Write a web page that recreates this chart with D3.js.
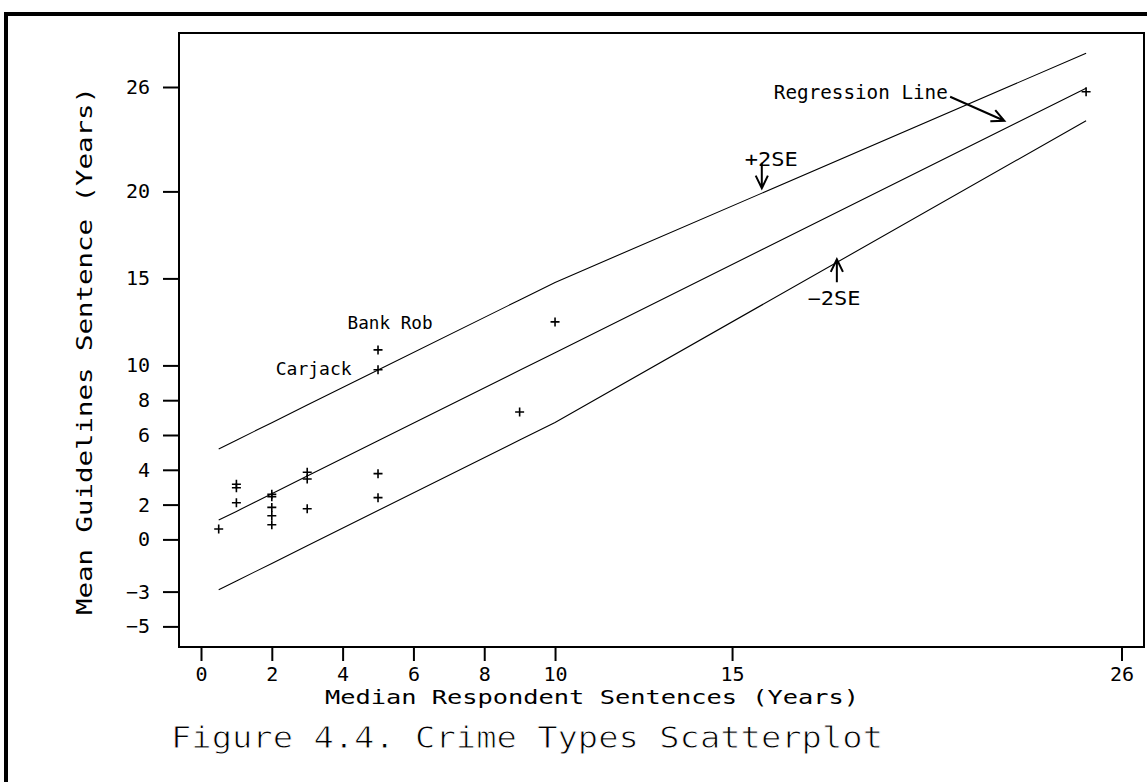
<!DOCTYPE html>
<html>
<head>
<meta charset="utf-8">
<script src="https://cdn.jsdelivr.net/npm/d3@7"></script>
<style>
  body { margin: 0; background: #fff; }
  svg { display: block; }
  text { font-family: "DejaVu Sans Mono", monospace; fill: #000; }
</style>
</head>
<body>
<svg id="chart" width="1147" height="782"></svg>
<script>
// Median respondent sentence vs mean guidelines sentence, one point per crime type (years)
const medianSentence = [0.5, 1, 1, 1, 2, 2, 2, 2, 2, 3, 3, 3, 5, 5, 5, 5, 9, 10, 25];
const guidelineSentence = [0.60, 3.17, 2.97, 2.11, 2.59, 2.45, 1.84, 1.36, 0.84,
                           3.86, 3.47, 1.76, 10.89, 9.75, 3.78, 2.40, 7.32, 12.50, 25.73];

// Fitted line and +/- 2 SE bands, evaluated at the observed x values
const fitX        = [0.5, 1, 2, 3, 5, 9, 10, 25];
const regressionY = [1.11, 1.61, 2.63, 3.64, 5.67, 9.72, 10.73, 25.93];
const upperY      = [5.20, 5.70, 6.71, 7.72, 9.73, 13.76, 14.77, 27.94];
const lowerY      = [-2.90, -2.39, -1.38, -0.37, 1.66, 5.71, 6.72, 24.06];

const xTicks = [0, 2, 4, 6, 8, 10, 15, 26];
const yTicks = [26, 20, 15, 10, 8, 6, 4, 2, 0, -3, -5];

const svg = d3.select("#chart");
const W = 1147, H = 782;
svg.append("rect").attr("width", W).attr("height", H).attr("fill", "#fff");

// page border (top and left rules)
svg.append("path")
  .attr("d", `M6,${H} L6,14 L${W},14`)
  .attr("fill", "none").attr("stroke", "#000").attr("stroke-width", 4);

const frame = { left: 179, right: 1144, top: 33, bottom: 647 };
const x = d3.scaleLinear().domain([0, 26]).range([201, 1121.5]);
const y = d3.scaleLinear().domain([-5, 26]).range([626.4, 87]);

// plot frame
svg.append("rect")
  .attr("x", frame.left).attr("y", frame.top)
  .attr("width", frame.right - frame.left).attr("height", frame.bottom - frame.top)
  .attr("fill", "none").attr("stroke", "#000").attr("stroke-width", 2);

// axes
const xAxis = svg.append("g")
  .attr("transform", `translate(0,${frame.bottom})`)
  .call(d3.axisBottom(x).tickValues(xTicks).tickSize(14).tickPadding(6).tickFormat(d3.format("d")));
const yAxis = svg.append("g")
  .attr("transform", `translate(${frame.left},0)`)
  .call(d3.axisLeft(y).tickValues(yTicks).tickSize(16).tickPadding(13).tickFormat(d => d < 0 ? "\u2212" + Math.abs(d) : d));
[xAxis, yAxis].forEach(g => {
  g.select(".domain").remove();
  g.attr("font-family", null).attr("font-size", null);
  g.selectAll(".tick line").attr("stroke", "#000").attr("stroke-width", 2);
  g.selectAll(".tick text").style("font-size", "20px").attr("fill", "#000");
});

// fitted line and bands
const line = d3.line().x(d => x(d[0])).y(d => y(d[1]));
[regressionY, upperY, lowerY].forEach(ys => {
  svg.append("path")
    .datum(fitX.map((v, i) => [v, ys[i]]))
    .attr("d", line)
    .attr("fill", "none").attr("stroke", "#000").attr("stroke-width", 1.1);
});

// points as plus markers
const s = 4.5;
svg.append("g").selectAll("path")
  .data(medianSentence.map((v, i) => [v, guidelineSentence[i]]))
  .join("path")
  .attr("d", d => `M${x(d[0]) - s},${y(d[1])}h${2 * s}M${x(d[0])},${y(d[1]) - s}v${2 * s}`)
  .attr("stroke", "#000").attr("stroke-width", 1.6).attr("fill", "none");

// annotations (data units)
function label(txt, vx, vy, size, len) {
  const t = svg.append("text")
    .attr("x", x(vx)).attr("y", y(vy))
    .style("font-size", size + "px")
    .text(txt);
  if (len) t.attr("textLength", len).attr("lengthAdjust", "spacingAndGlyphs");
  return t;
}
function arrow(x0, y0, x1, y1) {
  const ax = x(x0), ay = y(y0), bx = x(x1), by = y(y1);
  const ang = Math.atan2(by - ay, bx - ax), L = 14, spread = 0.45;
  const p1 = [bx - L * Math.cos(ang - spread), by - L * Math.sin(ang - spread)];
  const p2 = [bx - L * Math.cos(ang + spread), by - L * Math.sin(ang + spread)];
  svg.append("path")
    .attr("d", `M${ax},${ay}L${bx},${by}M${p1[0]},${p1[1]}L${bx},${by}L${p2[0]},${p2[1]}`)
    .attr("fill", "none").attr("stroke", "#000").attr("stroke-width", 2);
}

label("Regression Line", 16.18, 25.31, 19, 174);
arrow(21.16, 25.44, 22.69, 24.06);
label("+2SE", 15.36, 21.46, 19, 53);
arrow(15.84, 21.65, 15.84, 20.18);
label("\u22122SE", 17.13, 13.47, 19, 53);
arrow(17.96, 14.78, 17.96, 16.10);
label("Bank Rob", 4.14, 12.07, 18, 85);
label("Carjack", 2.11, 9.45, 18, 76);

// axis titles
svg.append("text")
  .attr("x", 592).attr("y", 704)
  .attr("text-anchor", "middle")
  .style("font-size", "20px")
  .attr("textLength", 534).attr("lengthAdjust", "spacingAndGlyphs")
  .text("Median Respondent Sentences (Years)");
svg.append("text")
  .attr("transform", "translate(92,351) rotate(-90)")
  .attr("text-anchor", "middle")
  .style("font-size", "21px")
  .attr("textLength", 528).attr("lengthAdjust", "spacingAndGlyphs")
  .text("Mean Guidelines Sentence (Years)");

// figure caption, drawn in a light stroke weight
svg.append("text")
  .attr("x", 171).attr("y", 748)
  .style("font-size", "31px")
  .attr("textLength", 712).attr("lengthAdjust", "spacingAndGlyphs")
  .attr("stroke", "#fff").attr("stroke-width", 0.9)
  .text("Figure 4.4. Crime Types Scatterplot");
</script>
</body>
</html>
